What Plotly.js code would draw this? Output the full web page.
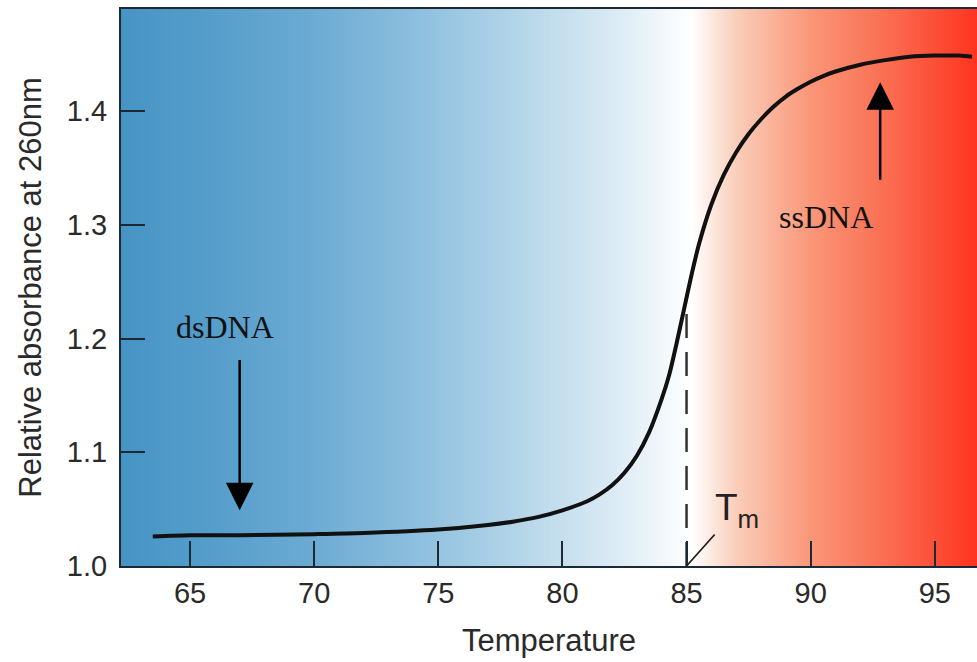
<!DOCTYPE html>
<html>
<head>
<meta charset="utf-8">
<script src="https://cdn.plot.ly/plotly-3.0.1.min.js"></script>
<style>html,body{margin:0;padding:0;background:#fff;}#chart{width:977px;height:662px;}</style>
</head>
<body>
<div id="chart"></div>
<script>
// Melting curve
var temperature = [63.5, 65, 67, 70, 72, 75, 77, 78, 79, 80, 81, 81.5, 82, 82.5, 83, 83.5, 84, 84.3, 84.6, 84.9, 85.2, 85.5, 86, 86.5, 87, 87.5, 88, 88.5, 89, 89.5, 90, 90.5, 91, 92, 93, 94, 95, 96, 96.5];
var absorbance  = [1.026, 1.027, 1.027, 1.028, 1.029, 1.032, 1.036, 1.039, 1.043, 1.049, 1.057, 1.063, 1.071, 1.082, 1.097, 1.118, 1.147, 1.168, 1.196, 1.226, 1.256, 1.283, 1.318, 1.344, 1.364, 1.380, 1.393, 1.404, 1.413, 1.420, 1.426, 1.431, 1.435, 1.441, 1.445, 1.448, 1.449, 1.449, 1.448];

var xTicks = [65, 70, 75, 80, 85, 90, 95];
var yTicks = [1.0, 1.1, 1.2, 1.3, 1.4];

var tmTemp = 85;
var tmAbs = 1.234;

// labels and arrows
var dsLabel = {text: 'dsDNA', x: 66.4, y: 1.210};
var dsArrow = {x: 67.0, tail: 1.190, head: 1.049};
var ssLabel = {text: 'ssDNA', x: 90.6, y: 1.307};
var ssArrow = {x: 92.8, tail: 1.331, head: 1.4255};

// background gradient stops (temperature -> colour)
var gradTemps  = [62.2, 66, 70, 74, 78, 82, 85.2, 87, 90, 93, 96.7];
var gradColors = ['rgb(70,148,197)', 'rgb(86,158,203)', 'rgb(108,171,211)', 'rgb(140,190,222)', 'rgb(178,212,232)', 'rgb(218,234,244)', 'rgb(255,255,255)', 'rgb(250,205,185)', 'rgb(250,150,120)', 'rgb(250,110,82)', 'rgb(255,52,32)'];

var xRange = [62.22, 96.7];
var yRange = [1.0, 1.49];

var tMin = gradTemps[0], tMax = gradTemps[gradTemps.length - 1];
var colorscale = gradTemps.map(function (t, i) { return [(t - tMin) / (tMax - tMin), gradColors[i]]; });
var bgX = [], bgRow = [];
for (var t = xRange[0] - 0.2; t <= xRange[1] + 0.2; t += 0.1) { bgX.push(t); bgRow.push(Math.min(Math.max(t, tMin), tMax)); }

var bg = {
  type: 'heatmap', x: bgX, y: [yRange[0] - 0.01, yRange[1] + 0.01], z: [bgRow, bgRow],
  colorscale: colorscale, zmin: tMin, zmax: tMax, showscale: false, hoverinfo: 'skip', zsmooth: 'best'
};

var tmLine = {
  type: 'scatter', mode: 'lines', x: [tmTemp, tmTemp], y: [yRange[0], tmAbs],
  line: {color: '#333', width: 2.5, dash: '24px,14px'}, hoverinfo: 'skip'
};

var curve = {
  type: 'scatter', mode: 'lines', x: temperature, y: absorbance,
  line: {color: '#111', width: 4, shape: 'spline', smoothing: 0.8}
};

var tickFont = {family: 'Liberation Sans, Arial, sans-serif', size: 29, color: '#2a2a2a'};
var titleFont = {family: 'Liberation Sans, Arial, sans-serif', size: 31, color: '#2a2a2a'};

var layout = {
  width: 977, height: 662,
  margin: {l: 121, r: 0, t: 9, b: 96},
  paper_bgcolor: '#fff', plot_bgcolor: '#fff',
  showlegend: false,
  xaxis: {
    range: xRange, tickvals: xTicks, ticktext: xTicks.map(String),
    ticks: 'inside', ticklen: 25, tickwidth: 2, tickcolor: '#1c2a36',
    showline: true, linecolor: '#1c2a36', linewidth: 2, mirror: true,
    showgrid: false, zeroline: false, tickfont: tickFont, ticklabelstandoff: 0,
    title: {text: 'Temperature', font: titleFont, standoff: 22}
  },
  yaxis: {
    range: yRange, tickvals: yTicks, ticktext: yTicks.map(function (v) { return v.toFixed(1); }),
    ticks: 'inside', ticklen: 24, tickwidth: 2, tickcolor: '#1c2a36',
    showline: true, linecolor: '#1c2a36', linewidth: 2,
    showgrid: false, zeroline: false, tickfont: tickFont, ticklabelstandoff: 6,
    title: {text: 'Relative absorbance at 260nm', font: titleFont, standoff: 16}
  },
  annotations: [
    {x: dsArrow.x, y: dsArrow.head, ax: dsArrow.x, ay: dsArrow.tail, axref: 'x', ayref: 'y', xref: 'x', yref: 'y',
     text: ' ', showarrow: true, arrowhead: 2, arrowsize: 2.2, arrowwidth: 2.5, arrowcolor: '#000', standoff: 0},
    {x: ssArrow.x, y: ssArrow.head, ax: ssArrow.x, ay: ssArrow.tail, axref: 'x', ayref: 'y', xref: 'x', yref: 'y',
     text: ' ', showarrow: true, arrowhead: 2, arrowsize: 2.2, arrowwidth: 2.5, arrowcolor: '#000', standoff: 0},
    {x: dsLabel.x, y: dsLabel.y, xref: 'x', yref: 'y', text: dsLabel.text, showarrow: false,
     font: {family: 'Liberation Serif, Times New Roman, serif', size: 32, color: '#111'}},
    {x: ssLabel.x, y: ssLabel.y, xref: 'x', yref: 'y', text: ssLabel.text, showarrow: false,
     font: {family: 'Liberation Serif, Times New Roman, serif', size: 32, color: '#111'}},
    {x: tmTemp, y: yRange[0], xref: 'x', yref: 'y', text: 'T<sub>m</sub>', showarrow: true,
     arrowhead: 0, arrowwidth: 1.8, arrowcolor: '#222', ax: 50, ay: -56, standoff: 0,
     font: {family: 'Liberation Sans, Arial, sans-serif', size: 37, color: '#222'}}
  ]
};

Plotly.newPlot('chart', [bg, tmLine, curve], layout, {displayModeBar: false, staticPlot: true});
</script>
</body>
</html>
